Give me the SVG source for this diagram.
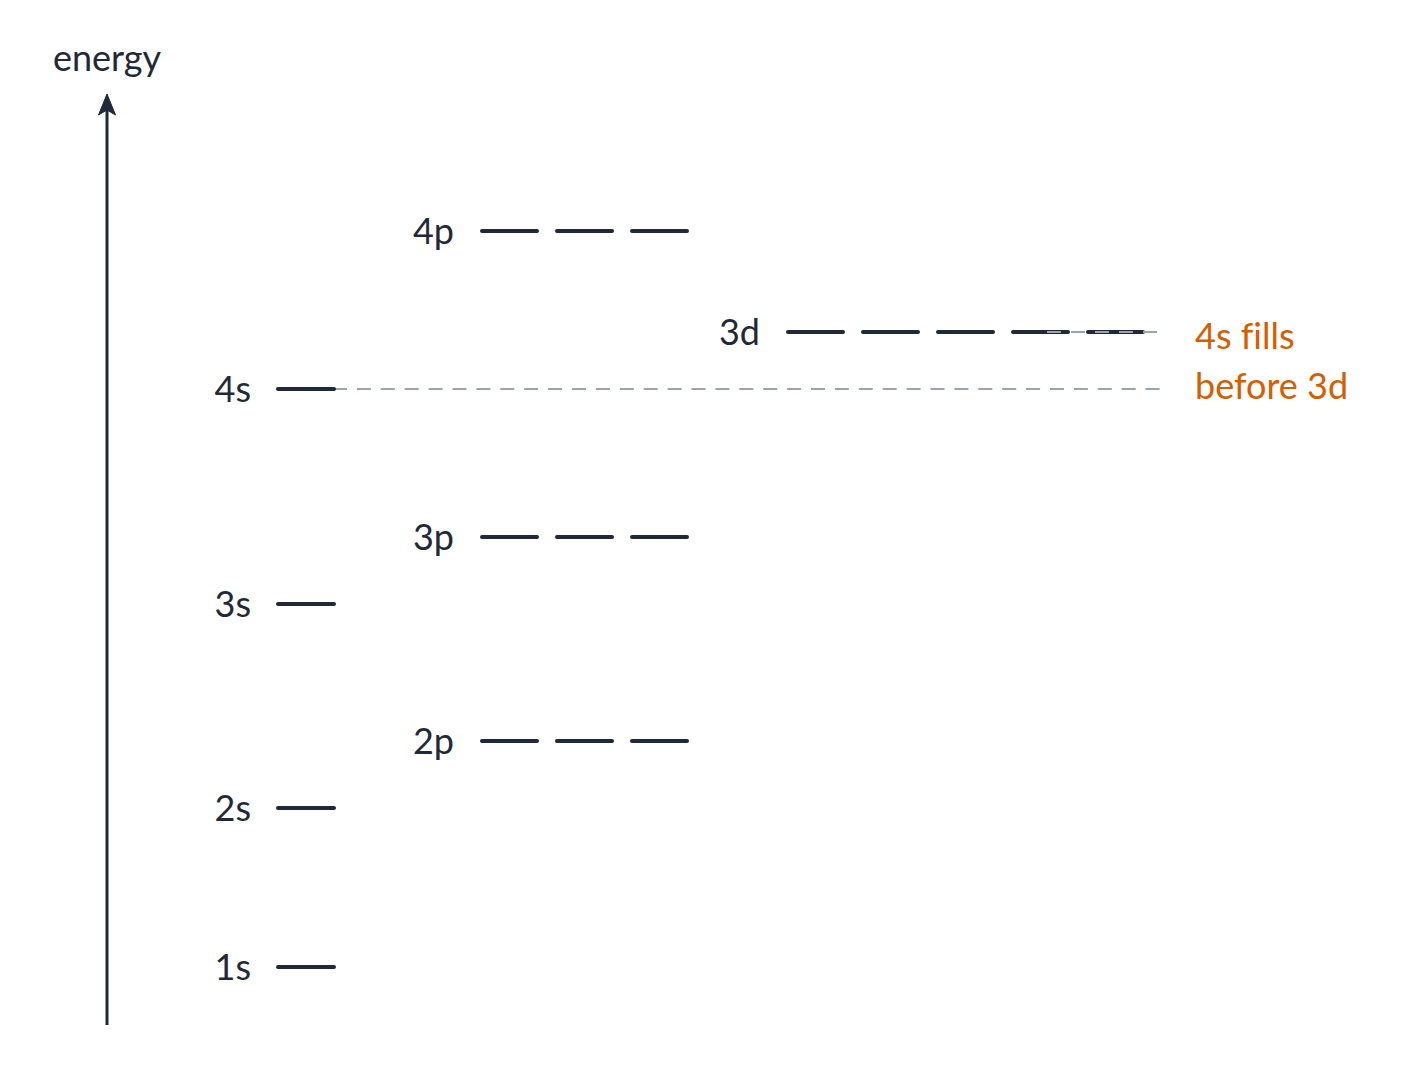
<svg xmlns="http://www.w3.org/2000/svg" width="1402" height="1067" viewBox="0 0 1402 1067">
<style>
  .lbl { font-family: Lato, "Noto Sans", sans-serif; font-size: 36px; fill: #1f2937; font-variant-ligatures: none; }
  .note { font-family: Lato, "Noto Sans", sans-serif; font-size: 36px; fill: #d55e00; font-variant-ligatures: none; }
  .bar { stroke: #1f2937; stroke-width: 4; stroke-linecap: round; fill: none; }
  .guide { stroke: #9ca3af; stroke-width: 2.2; stroke-dasharray: 14 9.9; fill: none; }
  .axis { stroke: #1f2937; stroke-width: 3; fill: none; }
</style>
<rect width="1402" height="1067" fill="#ffffff"/>

<g id="axis">
  <line class="axis" x1="107" y1="1025" x2="107" y2="105"/>
  <path d="M107 94 L115.5 115 L107 110 L98.5 115 Z" fill="#1f2937" stroke="#1f2937" stroke-width="1" stroke-linejoin="round"/>
  <text class="lbl" x="53" y="71">energy</text>
</g>

<g id="connectors">
  <line class="guide" x1="333" y1="389" x2="1160" y2="389"/>
</g>

<g id="level-1s">
  <text class="lbl" x="251" y="980" text-anchor="end">1s</text>
  <line class="bar" x1="278" y1="967" x2="334" y2="967"/>
</g>
<g id="level-2s">
  <text class="lbl" x="251" y="821" text-anchor="end">2s</text>
  <line class="bar" x1="278" y1="808" x2="334" y2="808"/>
</g>
<g id="level-3s">
  <text class="lbl" x="251" y="617" text-anchor="end">3s</text>
  <line class="bar" x1="278" y1="604" x2="334" y2="604"/>
</g>
<g id="level-4s">
  <text class="lbl" x="251" y="402" text-anchor="end">4s</text>
  <line class="bar" x1="278" y1="389" x2="334" y2="389"/>
</g>

<g id="level-2p">
  <text class="lbl" x="454" y="754" text-anchor="end">2p</text>
  <line class="bar" x1="482" y1="741" x2="537" y2="741"/>
  <line class="bar" x1="557" y1="741" x2="612" y2="741"/>
  <line class="bar" x1="632" y1="741" x2="687" y2="741"/>
</g>
<g id="level-3p">
  <text class="lbl" x="454" y="550" text-anchor="end">3p</text>
  <line class="bar" x1="482" y1="537" x2="537" y2="537"/>
  <line class="bar" x1="557" y1="537" x2="612" y2="537"/>
  <line class="bar" x1="632" y1="537" x2="687" y2="537"/>
</g>
<g id="level-4p">
  <text class="lbl" x="454" y="244" text-anchor="end">4p</text>
  <line class="bar" x1="482" y1="231" x2="537" y2="231"/>
  <line class="bar" x1="557" y1="231" x2="612" y2="231"/>
  <line class="bar" x1="632" y1="231" x2="687" y2="231"/>
</g>

<g id="level-3d">
  <text class="lbl" x="760" y="345" text-anchor="end">3d</text>
  <line class="bar" x1="788" y1="332" x2="843" y2="332"/>
  <line class="bar" x1="863" y1="332" x2="918" y2="332"/>
  <line class="bar" x1="938" y1="332" x2="993" y2="332"/>
  <line class="bar" x1="1013" y1="332" x2="1068" y2="332"/>
  <line class="bar" x1="1088" y1="332" x2="1143" y2="332"/>
  <line class="guide" x1="1047" y1="332" x2="1157" y2="332" style="stroke-dasharray:14 10"/>
</g>

<g id="note">
  <text class="note" x="1195" y="349">4s fills</text>
  <text class="note" x="1195" y="399">before 3d</text>
</g>
</svg>
